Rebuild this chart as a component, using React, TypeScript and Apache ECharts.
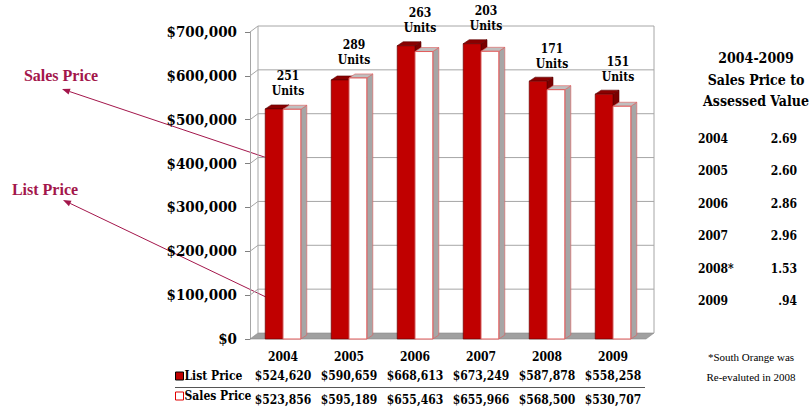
import React, { useEffect, useRef } from 'react';
import * as echarts from 'echarts';

const categories = ['2004', '2005', '2006', '2007', '2008', '2009'];
const listPrice = [524620, 590659, 668613, 673249, 587878, 558258];
const salesPrice = [523856, 595189, 655463, 655966, 568500, 530707];
const units = [251, 289, 263, 203, 171, 151];
const yTicks = [0, 100000, 200000, 300000, 400000, 500000, 600000, 700000];
const ratioYears = ['2004', '2005', '2006', '2007', '2008*', '2009'];
const ratios = ['2.69', '2.60', '2.86', '2.96', '1.53', '.94'];
const panelTitle = ['2004-2009', 'Sales Price to', 'Assessed Value'];
const footnote = ['*South Orange was', 'Re-evaluted in 2008'];

const F = "'DejaVu Serif Condensed', 'DejaVu Serif', serif";
const FS = "'Liberation Serif', serif";
const ANN = '#A3164B';
const WX = 8, WY = 6; // wall depth
const BX = 6, BY = 4; // bar depth

const money = (v: number) => '$' + v.toLocaleString('en-US');

function arrow(x1: number, y1: number, x2: number, y2: number) {
  const a = Math.atan2(y2 - y1, x2 - x1);
  const L = 8, W = 3;
  const bx = x2 - L * Math.cos(a), by = y2 - L * Math.sin(a);
  const px = -Math.sin(a) * W, py = Math.cos(a) * W;
  return [
    { type: 'line', shape: { x1, y1, x2: bx, y2: by }, style: { stroke: ANN, lineWidth: 1 }, silent: true },
    { type: 'polygon', shape: { points: [[x2, y2], [bx + px, by + py], [bx - px, by - py]] }, style: { fill: ANN }, silent: true },
  ];
}

function barRender(isList: boolean) {
  return (params: any, api: any) => {
    const i = api.value(0);
    const v = api.value(1);
    const c = api.coord([i, v]);
    const b = api.coord([i, 0]);
    const band = api.size([1, 0])[0];
    const w = band * 0.27;
    const xl = isList ? c[0] - w : c[0];
    const y = c[1];
    const front = isList ? '#C00000' : '#FFFFFF';
    const stroke = isList ? '#5A0000' : '#E05A5A';
    const top = isList ? '#8A0000' : '#BFBFBF';
    const side = isList ? '#7A0000' : '#A6A6A6';
    return {
      type: 'group',
      children: [
        { type: 'polygon', shape: { points: [[xl + w, y], [xl + w + BX, y - BY], [xl + w + BX, b[1] - BY], [xl + w, b[1]]] }, style: { fill: side, stroke, lineWidth: 0.6 } },
        { type: 'polygon', shape: { points: [[xl, y], [xl + BX, y - BY], [xl + w + BX, y - BY], [xl + w, y]] }, style: { fill: top, stroke, lineWidth: 0.6 } },
        { type: 'rect', shape: { x: xl, y, width: w, height: b[1] - y }, style: { fill: front, stroke, lineWidth: isList ? 0.6 : 1 } },
      ],
    };
  };
}

export default function App() {
  const ref = useRef<HTMLDivElement>(null);
  useEffect(() => {
    if (!ref.current) return;
    const chart = echarts.init(ref.current, undefined, { renderer: 'svg' });
    const graphics: any[] = [];
    graphics.push({ type: 'text', x: 61, y: 75, style: { text: 'Sales Price', align: 'center', verticalAlign: 'middle', font: `bold 16px ${FS}`, fill: ANN } });
    graphics.push({ type: 'text', x: 45, y: 189, style: { text: 'List Price', align: 'center', verticalAlign: 'middle', font: `bold 16px ${FS}`, fill: ANN } });
    graphics.push(...arrow(297, 168, 62, 89));
    graphics.push(...arrow(268, 298, 63, 200));
    panelTitle.forEach((t, k) => {
      graphics.push({ type: 'text', x: 756, y: 58 + k * 21.5, style: { text: t, align: 'center', verticalAlign: 'middle', font: `bold 14px ${F}`, fill: '#000' } });
    });
    ratioYears.forEach((yr, k) => {
      const yy = 139 + k * 32.4;
      graphics.push({ type: 'text', x: 698, y: yy, style: { text: yr, align: 'left', verticalAlign: 'middle', font: `bold 12px ${F}`, fill: '#000' } });
      graphics.push({ type: 'text', x: 797, y: yy, style: { text: ratios[k], align: 'right', verticalAlign: 'middle', font: `bold 12px ${F}`, fill: '#000' } });
    });
    footnote.forEach((t, k) => {
      graphics.push({ type: 'text', x: 751, y: 357 + k * 20, style: { text: t, align: 'center', verticalAlign: 'middle', font: `11px ${FS}`, fill: '#000' } });
    });
    graphics.push({ type: 'line', shape: { x1: 175, y1: 387.5, x2: 645, y2: 387.5 }, style: { stroke: '#555', lineWidth: 1.2 } });

    chart.setOption({
      animation: false,
      backgroundColor: '#fff',
      grid: { left: 250, right: 164, top: 32, bottom: 68 },
      legend: {
        orient: 'vertical', left: 175, top: 370, padding: 0, itemWidth: 8, itemHeight: 8, itemGap: 8, selectedMode: false,
        icon: 'rect',
        textStyle: { fontFamily: F, fontWeight: 'bold', fontSize: 12, color: '#000', padding: [0, 0, 0, -4] },
        data: [
          { name: 'List Price', itemStyle: { color: '#C00000', borderColor: '#000', borderWidth: 1 } },
          { name: 'Sales Price', itemStyle: { color: '#FFFFFF', borderColor: '#E00000', borderWidth: 1 } },
        ],
      },
      xAxis: {
        type: 'category', data: categories,
        axisLine: { show: false }, axisTick: { show: false },
        axisLabel: {
          interval: 0, margin: 8,
          formatter: (val: string, idx: number) => `{y|${val}}\n{l|${money(listPrice[idx])}}\n{s|${money(salesPrice[idx])}}`,
          rich: {
            y: { fontFamily: F, fontWeight: 'bold', fontSize: 12, lineHeight: 19, color: '#000' },
            l: { fontFamily: F, fontWeight: 'bold', fontSize: 12, lineHeight: 19, color: '#000' },
            s: { fontFamily: F, fontWeight: 'bold', fontSize: 12, lineHeight: 21, color: '#000', verticalAlign: 'bottom' },
          },
        },
      },
      yAxis: {
        type: 'value', min: 0, max: 700000, interval: 100000,
        axisLine: { show: true, lineStyle: { color: '#A6A6A6' } },
        axisTick: { show: true, length: 5, lineStyle: { color: '#808080' } },
        splitLine: { show: false },
        axisLabel: { margin: 13, formatter: (v: number) => money(v), fontFamily: F, fontWeight: 'bold', fontSize: 15, color: '#000' },
      },
      series: [
        {
          type: 'custom', name: 'wall', silent: true, z: 1,
          data: yTicks.map((v) => [0, v]),
          encode: { x: 0, y: 1 },
          renderItem: (params: any, api: any) => {
            const v = api.value(1);
            const band = api.size([1, 0])[0];
            const p0 = api.coord([0, v]);
            const p1 = api.coord([categories.length - 1, v]);
            const b0 = api.coord([0, 0]);
            const xl = p0[0] - band / 2, xr = p1[0] + band / 2, y = p0[1];
            const ch: any[] = [];
            if (v === 0) {
              ch.push({ type: 'polygon', shape: { points: [[xl, y], [xl + WX, y - WY], [xr + WX, y - WY], [xr, y]] }, style: { fill: '#A0A0A0', stroke: '#8A8A8A', lineWidth: 0.6 } });
            } else {
              ch.push({ type: 'line', shape: { x1: xl + WX, y1: y - WY, x2: xr + WX, y2: y - WY }, style: { stroke: '#A6A6A6', lineWidth: 1 } });
              ch.push({ type: 'line', shape: { x1: xl, y1: y, x2: xl + WX, y2: y - WY }, style: { stroke: '#A6A6A6', lineWidth: 1 } });
            }
            if (v === yTicks[yTicks.length - 1]) {
              ch.push({ type: 'line', shape: { x1: xl + WX, y1: y - WY, x2: xl + WX, y2: b0[1] - WY }, style: { stroke: '#A6A6A6', lineWidth: 1 } });
              ch.push({ type: 'line', shape: { x1: xr + WX, y1: y - WY, x2: xr + WX, y2: b0[1] - WY }, style: { stroke: '#A6A6A6', lineWidth: 1 } });
            }
            return { type: 'group', children: ch };
          },
        },
        {
          type: 'custom', name: 'List Price', z: 2, itemStyle: { color: '#C00000' },
          data: listPrice.map((v, i) => [i, v]), encode: { x: 0, y: 1 },
          renderItem: barRender(true),
        },
        {
          type: 'custom', name: 'Sales Price', z: 3, itemStyle: { color: '#FFFFFF' },
          data: salesPrice.map((v, i) => [i, v]), encode: { x: 0, y: 1 },
          renderItem: barRender(false),
        },
        {
          type: 'custom', name: 'units', z: 4, silent: true,
          data: units.map((u, i) => [i, Math.max(listPrice[i], salesPrice[i]), u]), encode: { x: 0, y: 1 },
          renderItem: (params: any, api: any) => {
            const c = api.coord([api.value(0), api.value(1)]);
            return {
              type: 'text',
              style: { text: `${api.value(2)}\nUnits`, x: c[0] + 5, y: c[1] - 10, align: 'center', verticalAlign: 'bottom', font: `bold 12px ${F}`, lineHeight: 15, fill: '#000' },
            };
          },
        },
      ],
      graphic: graphics,
    });
    return () => chart.dispose();
  }, []);
  return <div ref={ref} style={{ position: 'fixed', left: 0, top: 0, width: 810, height: 407 }} />;
}
